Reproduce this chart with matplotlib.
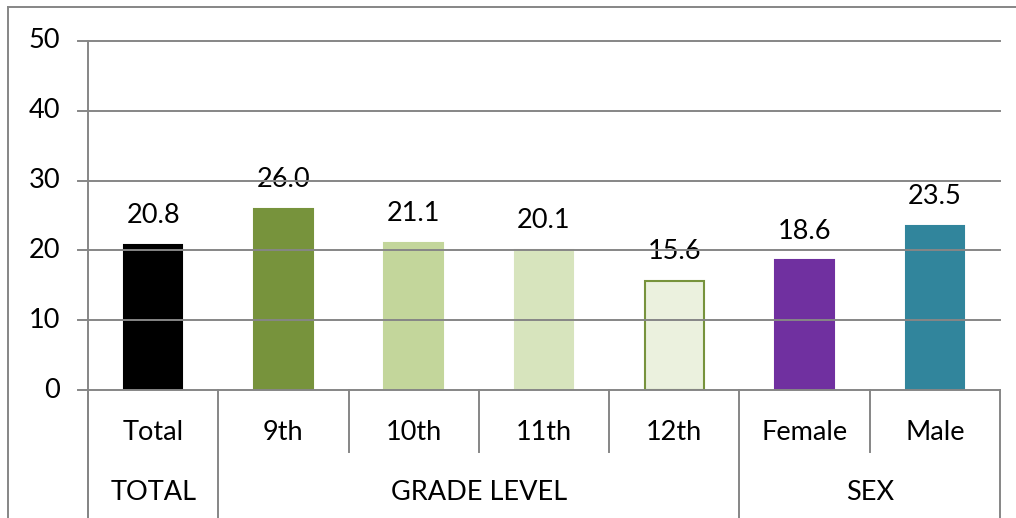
import numpy as np
import matplotlib.pyplot as plt
from matplotlib.lines import Line2D
import matplotlib.transforms as mtransforms

plt.rcParams['font.family'] = ['Lato', 'DejaVu Sans']

categories = ['Total', '9th', '10th', '11th', '12th', 'Female', 'Male']
values = [20.8, 26.0, 21.1, 20.1, 15.6, 18.6, 23.5]
groups = ['TOTAL', 'GRADE LEVEL', 'SEX']
group_spans = [(0, 0), (1, 4), (5, 6)]
bar_colors = ['#000000', '#77933C', '#C3D69B', '#D7E4BD', '#EBF1DE', '#7030A0', '#31859C']
edge_colors = ['#000000', '#77933C', '#C3D69B', '#D7E4BD', '#77933C', '#7030A0', '#31859C']
yticks = [0, 10, 20, 30, 40, 50]

W, H = 1016, 518
grid_c = '#868686'
fs = 19.5

fig = plt.figure(figsize=(W / 100, H / 100), dpi=100)
ax = fig.add_axes([88 / W, 1 - 390 / H, (1000 - 88) / W, (390 - 41) / H])

x = np.arange(len(categories))
ax.bar(x, values, width=0.45, color=bar_colors, edgecolor=edge_colors, linewidth=1.5, zorder=3)
for xi, v in zip(x, values):
    ax.annotate(f'{v:.1f}', (xi, v), xytext=(0, 12), textcoords='offset points',
                ha='center', va='bottom', fontsize=fs)

ax.set_xlim(-0.5, len(categories) - 0.5)
ax.set_ylim(0, 50)
ax.set_xticks([])
ax.set_yticks([])
for s in ax.spines.values():
    s.set_visible(False)

# gridlines, extended to the left as tick marks
trans_fig_y = mtransforms.blended_transform_factory(fig.transFigure, ax.transData)
for t in yticks:
    fig.add_artist(Line2D([78 / W, 1000 / W], [t, t], transform=trans_fig_y,
                          color=grid_c, lw=1.4, zorder=1))
    fig.text(60 / W, t, str(t), transform=trans_fig_y, ha='right', va='center', fontsize=fs)

# y axis line
fig.add_artist(Line2D([88 / W, 88 / W], [0, 1 - 41 / H], color=grid_c, lw=1.4))

# category separators
trans_x_fig = mtransforms.blended_transform_factory(ax.transData, fig.transFigure)
group_edges = {-0.5, len(categories) - 0.5}
for a, b in group_spans:
    group_edges.add(a - 0.5)
    group_edges.add(b + 0.5)
for k in range(len(categories) + 1):
    xe = k - 0.5
    y_end = 0 if xe in group_edges else 1 - 452 / H
    fig.add_artist(Line2D([xe, xe], [1 - 390 / H, y_end], transform=trans_x_fig,
                          color=grid_c, lw=1.4))

for xi, c in zip(x, categories):
    fig.text(xi, 1 - 432 / H, c, transform=trans_x_fig, ha='center', va='center', fontsize=fs)
for g, (a, b) in zip(groups, group_spans):
    fig.text((a + b) / 2, 1 - 492 / H, g, transform=trans_x_fig, ha='center', va='center', fontsize=fs)

# outer chart border
fig.add_artist(Line2D([8 / W, 8 / W], [0, 1 - 7 / H], color=grid_c, lw=1.4))
fig.add_artist(Line2D([8 / W, 1], [1 - 7 / H, 1 - 7 / H], color=grid_c, lw=1.4))

fig.savefig('out.png', dpi=100)
